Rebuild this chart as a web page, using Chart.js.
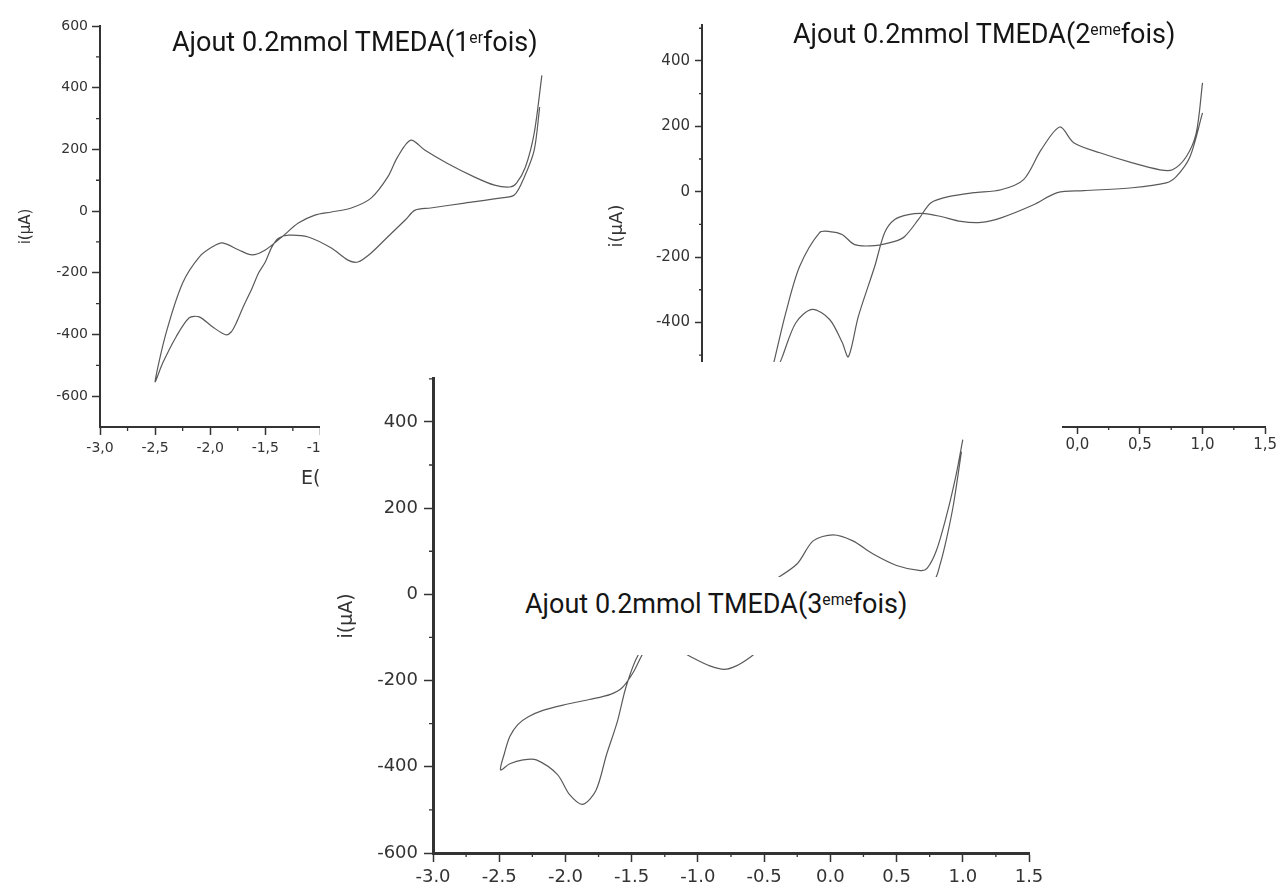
<!DOCTYPE html>
<html>
<head>
<meta charset="utf-8">
<script src="https://cdn.jsdelivr.net/npm/chart.js@4.4.0/dist/chart.umd.min.js"></script>
<style>
  body { margin: 0; background: #fff; width: 1279px; height: 885px; overflow: hidden; position: relative; }
  .panel { position: absolute; }
  .panel canvas { position: absolute; left: 0; top: 0; }
  .ttl { position: absolute; font-family: Roboto, sans-serif; font-size: 27px; line-height: 1; color: #151515; white-space: nowrap; }
  .ttl span { font-size: 0.58em; position: relative; top: -8px; }
  .boite { background: #fff; width: 420px; height: 64px; padding: 14px 0 0 25px; }
  .xlab { position: absolute; font-family: "DejaVu Sans", sans-serif; font-size: 19px; line-height: 1; color: #333; white-space: nowrap; }
</style>
</head>
<body>

<div class="panel" id="p1" style="left:0;top:0;width:612px;height:480px">
  <canvas id="c1" width="612" height="480"></canvas>
  <div class="ttl" style="left:172px;top:29px">Ajout 0.2mmol TMEDA(1<span>er</span>fois)</div>
  <div class="xlab" style="left:301px;top:468px">E(V)</div>
</div>

<div class="panel" id="p2" style="left:600px;top:0;width:679px;height:470px">
  <canvas id="c2" width="679" height="470"></canvas>
  <div class="ttl" style="left:193px;top:21px">Ajout 0.2mmol TMEDA(2<span>eme</span>fois)</div>
</div>

<div class="panel" id="p3" style="left:320px;top:362px;width:742px;height:523px;background:#fff">
  <canvas id="c3" width="742" height="523"></canvas>
  <div class="ttl boite" style="left:180px;top:215px">Ajout 0.2mmol TMEDA(3<span>eme</span>fois)</div>
</div>

<script>
// 1er ajout : aller (reduction) de 1.0 V vers -2.5 V puis retour
const p1E = [0.99, 0.94, 0.85, 0.76, 0.63, 0.31, 0.0, -0.14, -0.23, -0.39, -0.54, -0.66, -0.75, -0.90, -1.11, -1.29, -1.38, -1.44, -1.50, -1.56, -1.62, -1.70, -1.76, -1.81, -1.86, -1.98, -2.10, -2.19, -2.31, -2.43, -2.50,
             -2.40, -2.25, -2.10, -1.98, -1.89, -1.74, -1.62, -1.50, -1.35, -1.20, -1.05, -0.90, -0.72, -0.54, -0.39, -0.30, -0.18, -0.05, 0.15, 0.40, 0.58, 0.72, 0.78, 0.86, 0.94, 1.01];
const p1I = [337, 197, 110, 52, 42, 26, 10, 3, -29, -84, -136, -165, -159, -120, -84, -78, -88, -116, -165, -200, -250, -310, -360, -392, -401, -375, -343, -346, -408, -492, -553,
             -395, -233, -149, -116, -103, -126, -142, -126, -84, -39, -13, -3, 10, 42, 110, 175, 230, 197, 155, 110, 84, 78, 91, 142, 252, 440];

// 2eme ajout
const p2E = [1.0, 0.9, 0.79, 0.71, 0.44, 0.05, -0.16, -0.35, -0.61, -0.77, -0.93, -1.09, -1.22, -1.35, -1.46, -1.54, -1.62, -1.75, -1.83, -1.88, -1.98, -2.12, -2.25, -2.36, -2.50,
             -2.42, -2.33, -2.22, -2.06, -1.98, -1.88, -1.78, -1.62, -1.46, -1.38, -1.27, -1.17, -1.03, -0.83, -0.61, -0.43, -0.29, -0.14, -0.03, 0.18, 0.44, 0.66, 0.76, 0.87, 0.95, 1.0];
const p2I = [241, 107, 46, 27, 12, 3, -3, -40, -80, -94, -91, -76, -67, -70, -85, -125, -229, -381, -505, -461, -391, -360, -401, -507, -640,
             -513, -370, -229, -125, -122, -131, -162, -165, -152, -137, -85, -34, -15, -3, 6, 37, 128, 198, 150, 119, 88, 67, 67, 107, 180, 333];

// 3eme ajout
const p3E = [0.99, 0.93, 0.88, 0.83, 0.78, 0.6, 0.3, 0.0, -0.3, -0.5, -0.61, -0.71, -0.80, -0.91, -1.04, -1.2, -1.35, -1.45, -1.54, -1.61, -1.69, -1.77, -1.87, -1.97, -2.06, -2.22, -2.32, -2.42, -2.49,
             -2.46, -2.42, -2.36, -2.28, -2.17, -1.99, -1.82, -1.66, -1.57, -1.49, -1.40, -1.2, -0.9, -0.6, -0.43, -0.25, -0.13, 0.02, 0.17, 0.32, 0.50, 0.68, 0.73, 0.80, 0.88, 0.95, 1.0];
const p3I = [331, 209, 133, 71, 32, 15, 5, -10, -60, -120, -147, -166, -174, -166, -147, -120, -110, -140, -212, -297, -372, -455, -487, -464, -418, -384, -384, -393, -407,
             -368, -330, -302, -284, -269, -255, -244, -232, -216, -182, -130, -60, -20, 0, 32, 71, 124, 138, 124, 94, 67, 55, 60, 101, 186, 278, 359];

// graduations
const xMajeures = [-3, -2.5, -2, -1.5, -1, -0.5, 0, 0.5, 1, 1.5];
const xMineures = [-2.75, -2.25, -1.75, -1.25, -0.75, -0.25, 0.25, 0.75, 1.25];
const p1YTicks = [-600, -400, -200, 0, 200, 400, 600];
const p1YMinor = [-500, -300, -100, 100, 300, 500];
const p2YMinor = [-700, -500, -300, -100, 100, 300, 500];
const p3YMinor = [-500, -300, -100, 100, 300, 500];
const p23YTicks = [-600, -400, -200, 0, 200, 400];

const minorTicks = {
  id: 'minorTicks',
  afterDraw(chart, args, o) {
    const ctx = chart.ctx;
    const xs = chart.scales.x, ys = chart.scales.y;
    ctx.save();
    ctx.strokeStyle = o.color;
    ctx.lineWidth = o.width;
    ctx.beginPath();
    o.xValues.forEach(v => {
      const px = xs.getPixelForValue(v);
      ctx.moveTo(px, xs.top);
      ctx.lineTo(px, xs.top + o.len);
    });
    o.yValues.forEach(v => {
      const py = ys.getPixelForValue(v);
      ctx.moveTo(ys.right, py);
      ctx.lineTo(ys.right - o.len, py);
    });
    ctx.stroke();
    ctx.restore();
  }
};

function dessineCV(canvasId, E, I, s) {
  const font = { family: 'DejaVu Sans', size: s.fontSize };
  const config = {
    type: 'scatter',
    data: {
      datasets: [{
        data: E.map((e, k) => ({ x: e, y: I[k] })),
        showLine: true,
        borderColor: '#5a5a5a',
        borderWidth: 1.2,
        pointRadius: 0,
        tension: 0.3,
        fill: false
      }]
    },
    options: {
      responsive: false,
      animation: false,
      layout: { padding: { top: s.padTop, right: s.padRight, left: 0, bottom: 0 } },
      plugins: {
        legend: { display: false },
        tooltip: { enabled: false },
        minorTicks: { xValues: xMineures, yValues: s.yMinor, len: s.minorLen, color: '#333', width: 1.3 }
      },
      scales: {
        x: {
          type: 'linear',
          min: -3,
          max: 1.5,
          afterFit: sc => { sc.height = s.xHeight; },
          afterBuildTicks: sc => { sc.ticks = xMajeures.map(v => ({ value: v })); },
          border: { display: true, color: '#333', width: s.axisWidth },
          grid: { display: true, drawOnChartArea: false, drawTicks: true, tickLength: s.tickLen, tickColor: '#333', tickWidth: 1.5 },
          ticks: { autoSkip: false, maxRotation: 0, padding: s.xPad, color: '#333', font: font,
                   callback: v => s.virgule ? v.toFixed(1).replace('.', ',') : v.toFixed(1) }
        },
        y: {
          type: 'linear',
          min: s.yMin,
          max: s.yMax,
          afterFit: sc => { sc.width = s.yWidth; },
          afterBuildTicks: sc => { sc.ticks = s.yTicks.map(v => ({ value: v })); },
          border: { display: true, color: '#333', width: s.axisWidth },
          grid: { display: true, drawOnChartArea: false, drawTicks: true, tickLength: s.tickLen, tickColor: '#333', tickWidth: 1.5 },
          ticks: { padding: s.yPad, color: '#333', font: font, callback: v => String(v) },
          title: { display: true, text: 'i(μA)', color: '#333',
                   font: { family: 'DejaVu Sans', size: s.titleSize }, padding: { top: s.titlePad, bottom: 0 } }
        }
      }
    },
    plugins: [minorTicks]
  };
  return new Chart(document.getElementById(canvasId), config);
}

dessineCV('c1', p1E, p1I, {
  padTop: 26, padRight: 12, yWidth: 100, xHeight: 53,
  yMin: -700, yMax: 600, yTicks: p1YTicks, yMinor: p1YMinor,
  fontSize: 14, titleSize: 15, titlePad: 17, tickLen: 8, minorLen: 4, axisWidth: 2,
  xPad: 5, yPad: 4, virgule: true
});

dessineCV('c2', p2E, p2I, {
  padTop: 25, padRight: 13, yWidth: 102, xHeight: 43,
  yMin: -720, yMax: 510, yTicks: p23YTicks, yMinor: p2YMinor,
  fontSize: 15, titleSize: 18, titlePad: 7, tickLen: 7, minorLen: 3, axisWidth: 2,
  xPad: 2, yPad: 5, virgule: true
});

dessineCV('c3', p3E, p3I, {
  padTop: 11, padRight: 33, yWidth: 113, xHeight: 32,
  yMin: -600, yMax: 500, yTicks: p23YTicks, yMinor: p3YMinor,
  fontSize: 18, titleSize: 19, titlePad: 16, tickLen: 9, minorLen: 4, axisWidth: 3,
  xPad: 5, yPad: 6, virgule: false
});
</script>
</body>
</html>
